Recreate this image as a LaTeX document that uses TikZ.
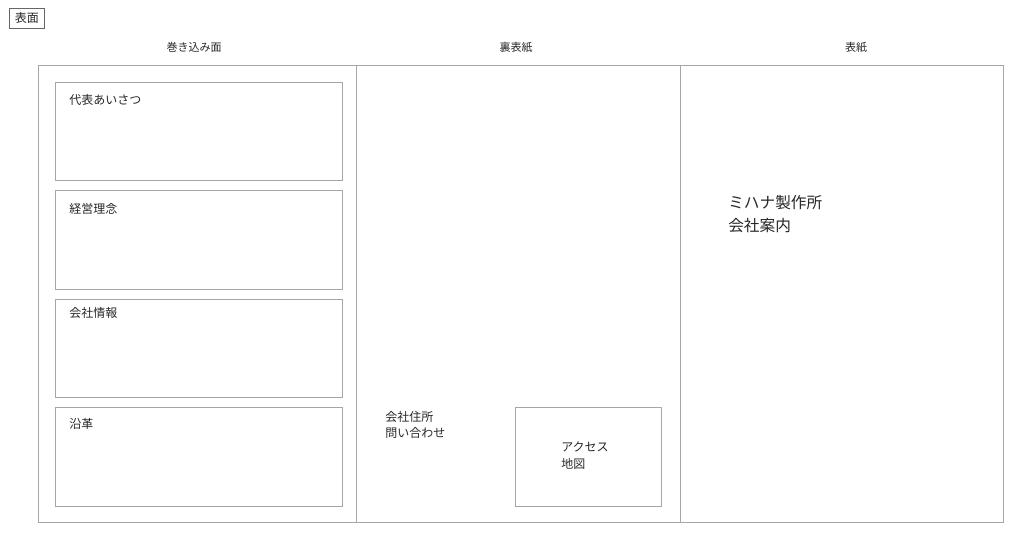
\documentclass[tikz,border=0pt]{standalone}
\usepackage{fontspec}
\setmainfont{Noto Sans CJK JP}
\tikzset{
  panel/.style={draw=black!35, line width=0.6pt},
  label/.style={inner sep=0pt, anchor=west, align=left, text=black!85, font=\fontsize{9}{12}\selectfont},
  head/.style={inner sep=0pt, text=black!85, font=\fontsize{8.25}{10}\selectfont}
}
\begin{document}
\begin{tikzpicture}[x=0.75pt, y=-0.75pt]
  \useasboundingbox (0,0) rectangle (1024,538);
  % tag
  \node[draw=black!60, line width=0.6pt, inner sep=1.5pt, anchor=north west, text=black!85, font=\fontsize{9}{10}\selectfont, minimum width=26.25pt, minimum height=15pt] (tag) at (9,8) {表面};
  % headers
  \node[head] (hdWrap) at (194,47) {巻き込み面};
  \node[head] (hdBack) at (516,47) {裏表紙};
  \node[head] (hdCover) at (856,47) {表紙};
  % panels
  \draw[panel] (38,65) rectangle (1003,522);
  \draw[panel] (356,65) -- (356,522) (680,65) -- (680,522);
  % inside flap
  \draw[panel] (55,82) rectangle (342,180) (55,190) rectangle (342,289)
               (55,299) rectangle (342,397) (55,407) rectangle (342,506);
  \node[label] (greet) at (69,100) {代表あいさつ};
  \node[label] (policy) at (69,209) {経営理念};
  \node[label] (info) at (69,313) {会社情報};
  \node[label] (history) at (69,424) {沿革};
  % back cover
  \node[label] (address) at (385,425) {会社住所\\問い合わせ};
  \draw[panel] (515,407) rectangle (661,506);
  \node[label, font=\fontsize{9}{12.75}\selectfont] (access) at (561,455.5) {アクセス\\地図};
  % cover
  \node[label, font=\fontsize{11.75}{17.25}\selectfont] (title) at (728,214.5) {ミハナ製作所\\会社案内};
\end{tikzpicture}
\end{document}
